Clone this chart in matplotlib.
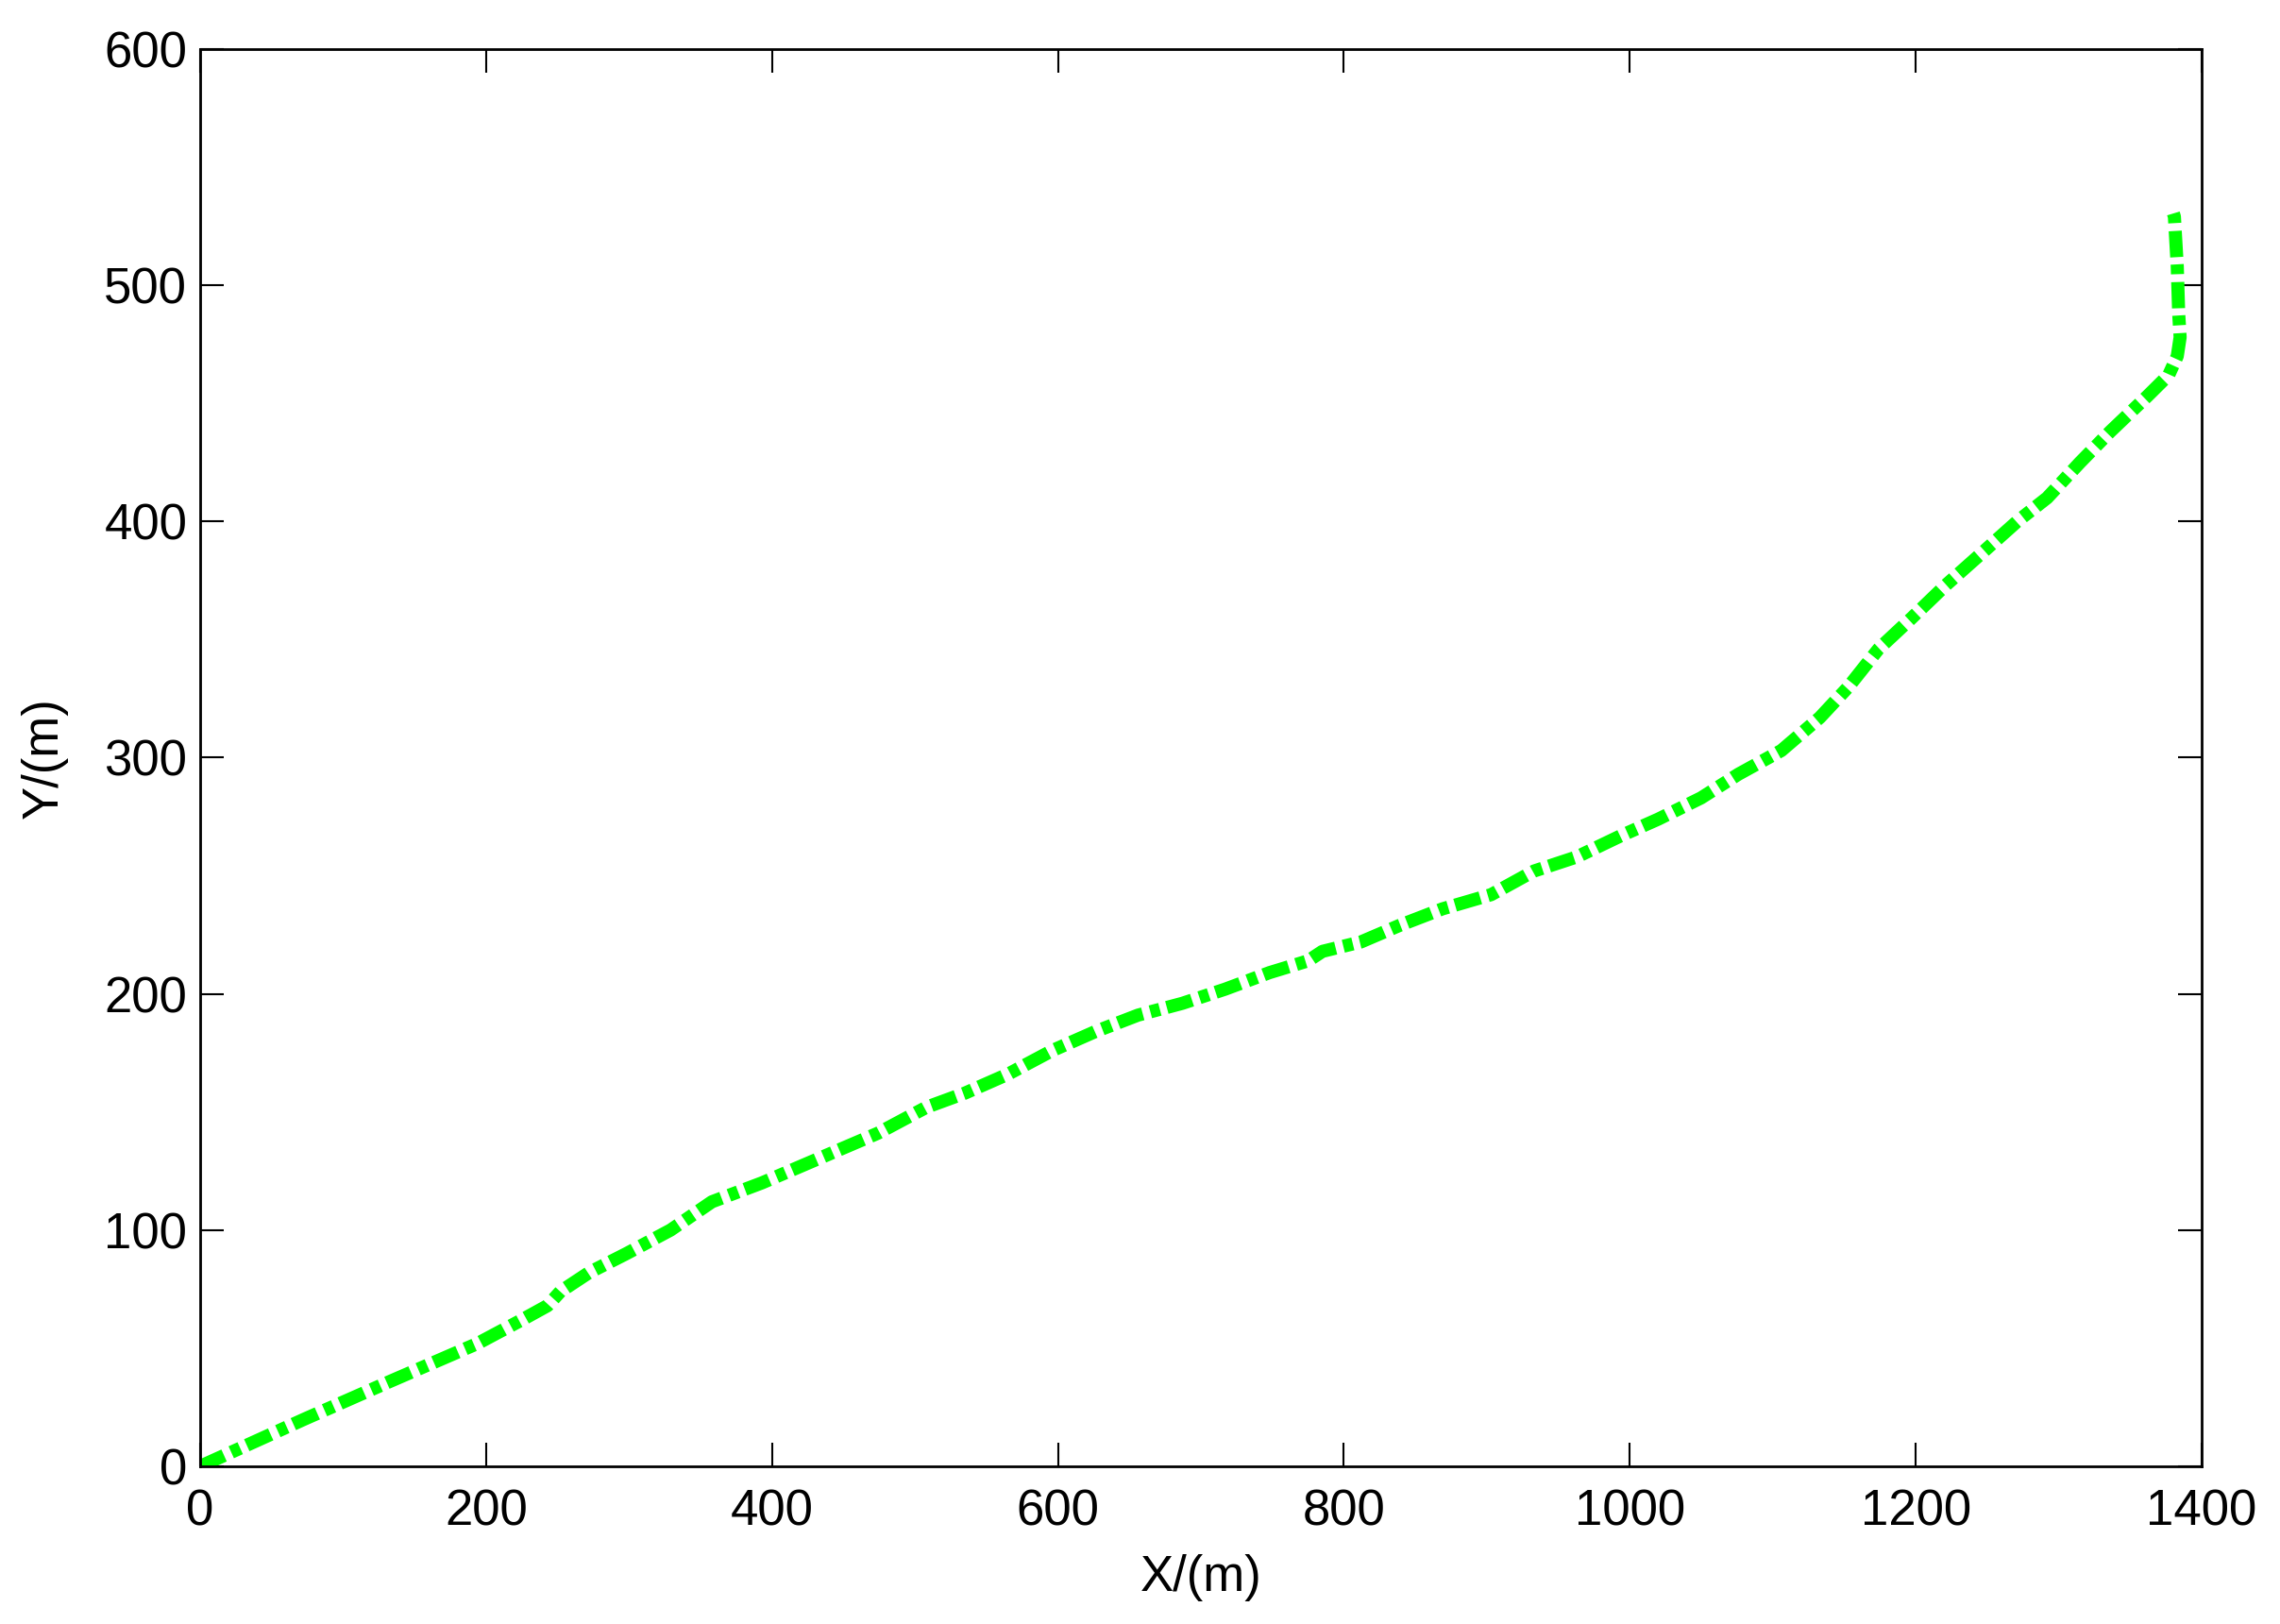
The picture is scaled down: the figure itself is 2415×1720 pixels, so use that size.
import matplotlib
matplotlib.use("Agg")
import matplotlib.pyplot as plt

# trajectory
x_m = [0, 73, 133, 194, 225, 243, 252, 272, 298, 329, 358, 393, 447, 474, 508,
       535, 565, 596, 626, 656, 687, 717, 748, 775, 785, 812, 839, 869, 903, 933,
       963, 994, 1020, 1050, 1076, 1106, 1133, 1153, 1174, 1197, 1221, 1247, 1271,
       1292, 1315, 1336, 1362, 1377, 1383, 1385, 1384, 1383, 1381, 1379]
y_m = [0, 20, 36, 52, 62, 68, 74, 82, 90, 100, 112, 120, 134, 141, 152,
       158, 166, 176, 184, 191, 196, 202, 209, 214, 218, 222, 229, 236, 242, 252,
       258, 267, 274, 283, 293, 303, 317, 330, 346, 359, 373, 387, 400,
       410, 425, 438, 453, 462, 470, 478, 488, 508, 529, 533]

x_ticks = [0, 200, 400, 600, 800, 1000, 1200, 1400]
y_ticks = [0, 100, 200, 300, 400, 500, 600]

plt.rcParams['font.family'] = ['Liberation Sans', 'DejaVu Sans']

fig = plt.figure(figsize=(24.15, 17.2), dpi=100)
ax = fig.add_axes([0.0878, 0.0971, 0.8778, 0.8727])

ax.plot(x_m, y_m, color=(0, 1, 0), linewidth=10,
        linestyle=(0, (2.0, 0.6, 0.75, 0.55)), dash_capstyle='butt')

ax.set_xlim(0, 1400)
ax.set_ylim(0, 600)
ax.set_xticks(x_ticks)
ax.set_yticks(y_ticks)
ax.tick_params(direction='in', length=18, width=1.5, labelsize=38,
               top=True, right=True, pad=10)
ax.tick_params(axis='x', pad=17)
for s in ax.spines.values():
    s.set_linewidth(2)

ax.set_xlabel('X/(m)', fontsize=38, labelpad=14)
ax.set_ylabel('Y/(m)', fontsize=38, labelpad=28)

fig.savefig('out.png', dpi=100, facecolor='white')
